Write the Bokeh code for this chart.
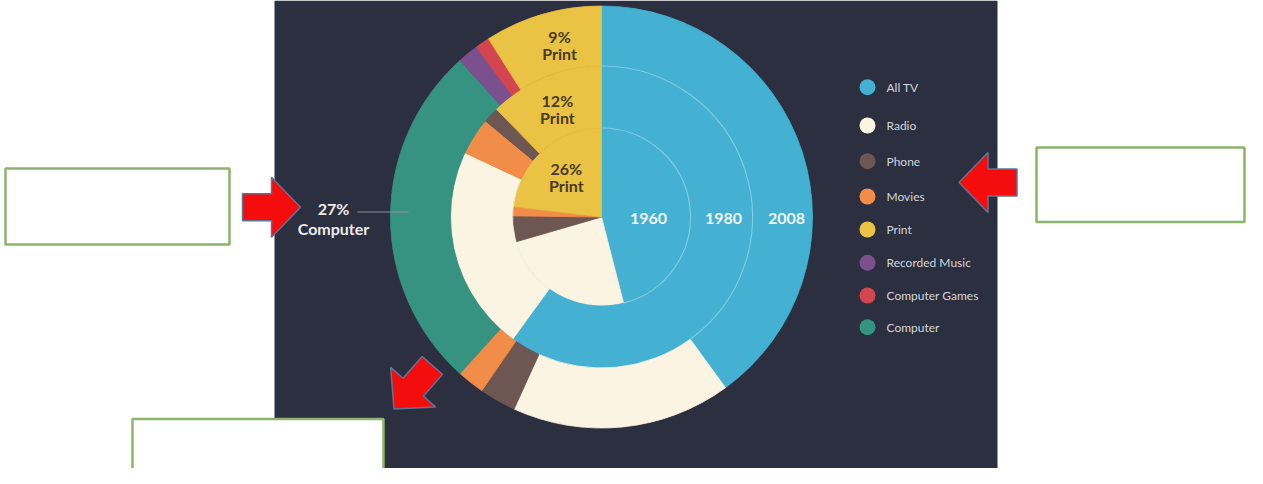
import math
from bokeh.plotting import figure
from bokeh.models import Range1d
from bokeh.core.properties import value
from bokeh.embed import file_html
from bokeh.resources import INLINE

# ---------------- data ----------------
categories = ["All TV", "Radio", "Phone", "Movies", "Print",
              "Recorded Music", "Computer Games", "Computer"]
cat_colors = ["#44b1d3", "#fbf4e3", "#6e5652", "#f28c49", "#eac244",
              "#7b508f", "#d3464f", "#379381"]

years = ["1960", "1980", "2008"]

order_1960 = ["All TV", "Radio", "Phone", "Movies", "Print"]
share_1960 = [46.0, 24.5, 4.7, 1.7, 23.1]

order_1980 = ["All TV", "Radio", "Movies", "Phone", "Print"]
share_1980 = [60.0, 22.0, 4.0, 1.7, 12.3]

order_2008 = ["All TV", "Radio", "Phone", "Movies", "Computer",
              "Recorded Music", "Computer Games", "Print"]
share_2008 = [40.0, 16.8, 2.8, 2.1, 26.6, 1.6, 1.1, 9.0]

print_labels = ["26%", "12%", "9%"]
computer_label = ["27%", "Computer"]

# ---------------- layout / style ----------------
W, H = 1247, 468
BG = "#2b2f3f"
CX, CY = 601.0, 216.5          # screen coordinates of pie centre
RINGS = [(0, 89), (89, 151), (151, 211)]
FONT = value("Lato")

def Y(sy):
    return -sy

p = figure(width=W, height=H, output_backend="svg", toolbar_location=None,
           x_range=Range1d(0, W), y_range=Range1d(-H, 0),
           x_axis_type=None, y_axis_type=None, min_border=0,
           background_fill_color="white", border_fill_color="white",
           outline_line_color=None)
p.grid.visible = False

# dark panel
p.quad(left=[274], right=[997], top=[Y(0)], bottom=[Y(473)],
       fill_color=BG, line_color=None)

color_of = dict(zip(categories, cat_colors))

def spans(shares):
    tot = sum(shares)
    out, acc = [], 0.0
    for s in shares:
        a = acc / tot * 360.0
        acc += s
        b = acc / tot * 360.0
        out.append((a, b))
    return out

def bk(theta_cw_top):
    return math.radians(90.0 - theta_cw_top)

ring_data = [(order_1960, share_1960), (order_1980, share_1980), (order_2008, share_2008)]
ring_spans = []
for (order, shares), (r0, r1) in zip(ring_data, RINGS):
    sp = spans(shares)
    ring_spans.append(dict(zip(order, sp)))
    p.annular_wedge(x=[CX] * len(order), y=[Y(CY)] * len(order),
                    inner_radius=r0, outer_radius=r1,
                    start_angle=[bk(b) for a, b in sp],
                    end_angle=[bk(a) for a, b in sp],
                    fill_color=[color_of[c] for c in order],
                    line_color=[color_of[c] for c in order], line_width=0.8)

# faint ring separators across the TV band
for i in range(2):
    end = min(ring_spans[i]["All TV"][1], ring_spans[i + 1]["All TV"][1])
    p.arc(x=[CX], y=[Y(CY)], radius=RINGS[i][1],
          start_angle=[bk(end)], end_angle=[bk(0)],
          line_color="#8fd3e8", line_width=1.2, line_alpha=0.8)

# year labels on the TV band
year_r = [47, 122, 185]
p.text(x=[CX + r for r in year_r], y=[Y(CY + 1)] * 3, text=years,
       text_font=FONT, text_font_size="16px", text_font_style="bold",
       text_color="#eef7fa", text_align="center", text_baseline="middle")

# Print labels
lab_r = [53, 117, 179]
lab_shift = [0, 0, 8]
for i in range(3):
    a, b = ring_spans[i]["Print"]
    m = math.radians((a + b) / 2)
    lx = CX + lab_r[i] * math.sin(m) + lab_shift[i]
    ly = CY - lab_r[i] * math.cos(m)
    p.text(x=[lx, lx], y=[Y(ly - 8.5), Y(ly + 8.5)], text=[print_labels[i], "Print"],
           text_font=FONT, text_font_size="16px", text_font_style="bold",
           text_color="#483d22", text_align="center", text_baseline="middle")

# Computer callout
p.segment(x0=[357], y0=[Y(211.5)], x1=[408], y1=[Y(211.5)],
          line_color="#8d929c", line_width=1)
p.text(x=[333, 333], y=[Y(208), Y(228)], text=computer_label,
       text_font=FONT, text_font_size="16px", text_font_style="bold",
       text_color="#ececec", text_align="center", text_baseline="middle")

# legend
leg_y = [86.7, 125, 160.7, 196, 229, 262.3, 295, 326.7]
p.scatter(x=[867] * len(categories), y=[Y(v) for v in leg_y], size=16,
          fill_color=cat_colors, line_color=None)
p.text(x=[886] * len(categories), y=[Y(v) for v in leg_y], text=categories,
       text_font=FONT, text_font_size="12px", text_color="#d3d6dd",
       text_align="left", text_baseline="middle")

# annotation arrows
def arrow(tip, d, L, hl, hw, sw):
    dx, dy = d
    n = math.hypot(dx, dy)
    dx, dy = dx / n, dy / n
    nx, ny = -dy, dx
    tx, ty = tip
    tail = (tx - L * dx, ty - L * dy)
    base = (tx - hl * dx, ty - hl * dy)
    pts = [
        (tail[0] + nx * sw / 2, tail[1] + ny * sw / 2),
        (base[0] + nx * sw / 2, base[1] + ny * sw / 2),
        (base[0] + nx * hw / 2, base[1] + ny * hw / 2),
        (tx, ty),
        (base[0] - nx * hw / 2, base[1] - ny * hw / 2),
        (base[0] - nx * sw / 2, base[1] - ny * sw / 2),
        (tail[0] - nx * sw / 2, tail[1] - ny * sw / 2),
    ]
    return [q[0] for q in pts], [Y(q[1]) for q in pts]

for tip, d in [((300, 206.7), (1, 0)), ((958.5, 182), (-1, 0)), ((393.5, 408.5), (-0.66, 0.75))]:
    xs, ys = arrow(tip, d, 58, 29, 60, 27)
    p.patch(xs, ys, fill_color="#f50d0d", line_color="#5d7595", line_width=1.5)

# empty answer boxes
p.quad(left=[5, 1036, 132], right=[229, 1244, 383], top=[Y(168), Y(147), Y(418.5)],
       bottom=[Y(244), Y(221.5), Y(495)], fill_color="white",
       line_color="#8db46b", line_width=2.5)

open("out.html", "w").write(file_html(p, INLINE))
